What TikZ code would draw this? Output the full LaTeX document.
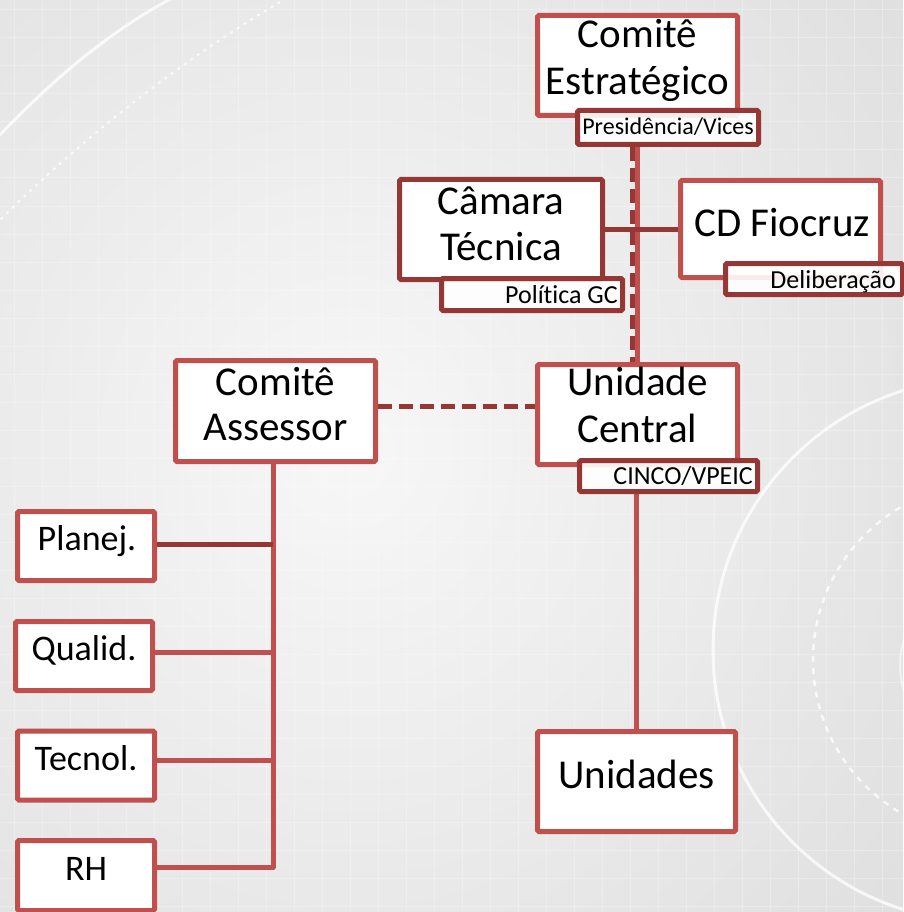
\documentclass[tikz,border=0pt]{standalone}
\usepackage{fontspec}
\setmainfont{Carlito}[Ligatures=NoCommon]
\usetikzlibrary{calc}
\definecolor{boxred}{RGB}{192,80,77}
\definecolor{deepred}{RGB}{149,55,53}
\definecolor{bgmid}{RGB}{247,247,247}
\definecolor{bgedge}{RGB}{220,220,220}
\pgfdeclarelayer{bg}
\pgfdeclarelayer{lines}
\pgfsetlayers{bg,lines,main}

\begin{document}
\begin{tikzpicture}[x=1pt,y=-1pt,
  box/.style={draw=boxred, line width=5pt, fill=white, rounded corners=1.5pt, inner sep=0pt},
  darkbox/.style={box, draw=deepred},
  tag/.style={draw=deepred, line width=5pt, fill=white, fill opacity=0.9, rounded corners=1.5pt, inner sep=0pt},
  bigtext/.style={font=\fontsize{41}{47}\selectfont, inner sep=0pt, anchor=base},
  smalltext/.style={font=\fontsize{36}{40}\selectfont, inner sep=0pt, anchor=base},
  tagtext/.style={font=\fontsize{26}{30}\selectfont, inner sep=0pt, anchor=base east},
  link/.style={draw=boxred, line width=5pt},
  darklink/.style={draw=deepred, line width=5pt},
  dashlink/.style={draw=deepred, line width=5pt, dash pattern=on 14pt off 7pt},
  gridline/.style={draw=white, opacity=0.25, line width=1pt},
  ring/.style={draw=white, line width=3pt, opacity=0.75},
]
\useasboundingbox (0,0) rectangle (903,912);

% backdrop: soft grey shading, faint grid and white rings
\begin{pgfonlayer}{bg}
\begin{scope}
  \clip (0,0) rectangle (903,912);
  \shade[inner color=bgmid, outer color=bgedge] (-450,-400) rectangle (1150,1300);
  \foreach \gx in {14,42,...,903} \draw[gridline] (\gx,0) -- (\gx,912);
  \foreach \gy in {10,38,...,912} \draw[gridline] (0,\gy) -- (903,\gy);
  \draw[ring] (-5,140) .. controls (50,82) and (110,30) .. (178,-5);
  \draw[ring, line width=2pt, dash pattern=on 3pt off 5pt] (-5,225) .. controls (80,140) and (180,60) .. (292,-5);
  \draw[ring] (985,650) circle (272pt);
  \draw[ring, line width=2.5pt, dash pattern=on 6pt off 6pt] (990,660) circle (177pt);
  \draw[ring, line width=2pt, opacity=0.5] (990,665) circle (90pt);
\end{scope}
\end{pgfonlayer}

% boxes
\node[box, minimum width=200pt, minimum height=100pt] (ce) at (637.5,65.5) {};
\node[tag, minimum width=181pt, minimum height=34pt] (pv) at (668,127.5) {};
\node[darkbox, minimum width=203pt, minimum height=100pt] (ct) at (501,229.5) {};
\node[tag, minimum width=181pt, minimum height=32pt] (pg) at (532,294.5) {};
\node[box, minimum width=200pt, minimum height=97pt] (cd) at (780.5,229) {};
\node[tag, minimum width=177pt, minimum height=31pt] (dl) at (814,279) {};
\node[box, minimum width=200pt, minimum height=101pt] (ca) at (275.5,411) {};
\node[box, minimum width=200pt, minimum height=100pt] (uc) at (637.5,414.5) {};
\node[tag, minimum width=178pt, minimum height=31pt] (ci) at (668.5,476) {};
\node[box, minimum width=198pt, minimum height=100pt] (un) at (636.5,781.5) {};
\node[box, minimum width=137pt, minimum height=69pt] (pl) at (86,546) {};
\node[box, minimum width=137pt, minimum height=69pt] (ql) at (84,656) {};
\node[box, minimum width=137pt, minimum height=69pt] (tc) at (86,765.5) {};
\node[box, minimum width=137pt, minimum height=70pt] (rh) at (86,875.5) {};

% box texts
\node[bigtext] (ce1) at (637.5,48) {Comitê};
\node[bigtext] (ce2) at (637.5,95) {Estratégico};
\node[bigtext] (ct1) at (501,214) {Câmara};
\node[bigtext] (ct2) at (501,260) {Técnica};
\node[bigtext] (cd1) at (782,236) {CD Fiocruz};
\node[bigtext] (ca1) at (275.5,395) {Comitê};
\node[bigtext] (ca2) at (275.5,440) {Assessor};
\node[bigtext] (uc1) at (637.5,395) {Unidade};
\node[bigtext] (uc2) at (637.5,442) {Central};
\node[bigtext] (un1) at (636.5,788) {Unidades};
\node[smalltext] (pl1) at (87,550) {Planej.};
\node[smalltext] (ql1) at (84,660) {Qualid.};
\node[smalltext] (tc1) at (86,770) {Tecnol.};
\node[smalltext] (rh1) at (86,880) {RH};

% tag texts
\node[tagtext, font=\fontsize{24}{28}\selectfont] (pv1) at (754,135) {Presidência/Vices};
\node[tagtext] (pg1) at (618,303) {Política GC};
\node[tagtext] (ci1) at (753,484) {CINCO/VPEIC};
\node[tagtext] (dl1) at (896,288) {Deliberação};

% connectors
\begin{pgfonlayer}{lines}
\draw[dashlink] ($(pv.south -| uc.north)+(-5.5,0)$) -- ($(uc.north)+(-5.5,0)$);
\draw[link] (pv.south -| uc.north) -- (uc.north);
\draw[darklink] (ct.east) -- (ct.east -| cd.west);
\draw[dashlink] ($(ca.east)+(0,-5)$) -- ($(ca.east -| uc.west)+(0,-5)$);
\coordinate (tk) at ($(ca.south)+(-2.5,0)$);
\draw[link, line join=round] (tk) -- ($(tk |- rh.east)+(0,-8.5)$) -- ($(rh.east)+(0,-8.5)$);
\draw[darklink] ($(pl.east)+(0,-2)$) -- ($(tk |- pl.east)+(0,-2)$);
\draw[link] ($(ql.east)+(0,-4)$) -- ($(tk |- ql.east)+(0,-4)$);
\draw[link] ($(tc.east)+(0,-5.5)$) -- ($(tk |- tc.east)+(0,-5.5)$);
\draw[link] (ci.south -| un.north) -- (un.north);
\end{pgfonlayer}
\end{tikzpicture}
\end{document}
